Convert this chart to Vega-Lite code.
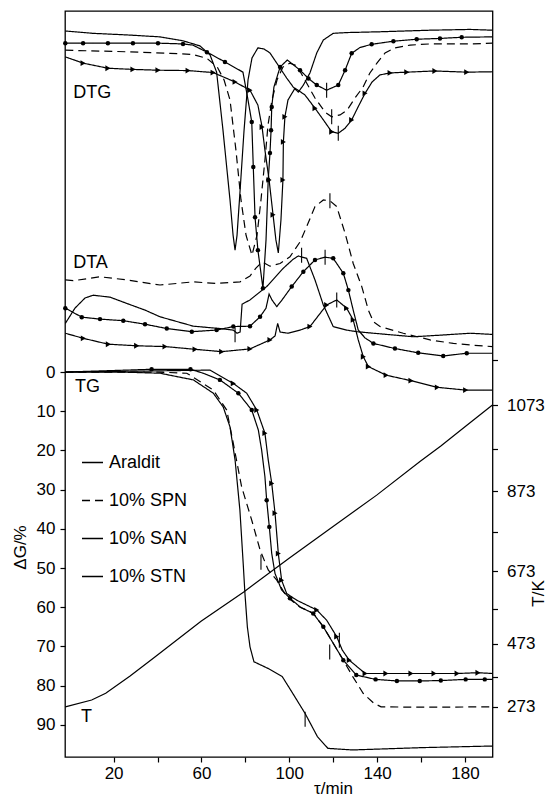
{
"$schema":"https://vega.github.io/schema/vega-lite/v6.json",
"width":427.5,"height":746,
"autosize":{"type":"none"},
"padding":{"left":65,"top":11,"right":60.5,"bottom":43},
"background":"white",
"config":{
 "view":{"stroke":"black","strokeWidth":1.3},
 "font":"Liberation Sans",
 "axis":{"domain":false,"grid":false,"tickColor":"black","labelColor":"black","titleColor":"black","labelFont":"Liberation Sans","titleFont":"Liberation Sans","labelFontSize":17,"titleFontSize":17,"titleFontWeight":"normal","tickWidth":1.2,"tickSize":5}
},
"datasets":{
 "curves":[
  {"g":"DTG","s":"Araldit","t":-2,"v":-87.0},{"g":"DTG","s":"Araldit","t":10.6,"v":-86.4},{"g":"DTG","s":"Araldit","t":26.1,"v":-86.0},{"g":"DTG","s":"Araldit","t":41.1,"v":-85.5},{"g":"DTG","s":"Araldit","t":51.6,"v":-84.5},{"g":"DTG","s":"Araldit","t":59.3,"v":-83.2},{"g":"DTG","s":"Araldit","t":63.9,"v":-80.9},{"g":"DTG","s":"Araldit","t":66.9,"v":-76.5},{"g":"DTG","s":"Araldit","t":69.8,"v":-61.7},{"g":"DTG","s":"Araldit","t":73.0,"v":-43.9},{"g":"DTG","s":"Araldit","t":74.4,"v":-34.9},{"g":"DTG","s":"Araldit","t":75.3,"v":-31.1},{"g":"DTG","s":"Araldit","t":76.2,"v":-34.9},{"g":"DTG","s":"Araldit","t":77.6,"v":-46.4},{"g":"DTG","s":"Araldit","t":79.4,"v":-61.7},{"g":"DTG","s":"Araldit","t":81.2,"v":-74.5},{"g":"DTG","s":"Araldit","t":83.0,"v":-80.1},{"g":"DTG","s":"Araldit","t":85.7,"v":-82.7},{"g":"DTG","s":"Araldit","t":88.5,"v":-82.4},{"g":"DTG","s":"Araldit","t":91.2,"v":-81.4},{"g":"DTG","s":"Araldit","t":94.3,"v":-78.8},{"g":"DTG","s":"Araldit","t":98.8,"v":-75.0},{"g":"DTG","s":"Araldit","t":101.8,"v":-72.7},{"g":"DTG","s":"Araldit","t":104.1,"v":-71.4},{"g":"DTG","s":"Araldit","t":106.4,"v":-73.2},{"g":"DTG","s":"Araldit","t":109.4,"v":-76.3},{"g":"DTG","s":"Araldit","t":112.5,"v":-81.4},{"g":"DTG","s":"Araldit","t":115.5,"v":-84.7},{"g":"DTG","s":"Araldit","t":120.0,"v":-86.4},{"g":"DTG","s":"Araldit","t":126.1,"v":-86.6},{"g":"DTG","s":"Araldit","t":141.3,"v":-86.8},{"g":"DTG","s":"Araldit","t":164.1,"v":-87.2},{"g":"DTG","s":"Araldit","t":182.3,"v":-87.4},{"g":"DTG","s":"Araldit","t":192.5,"v":-87.2},

  {"g":"DTG","s":"10% SPN","t":-2,"v":-82.1},{"g":"DTG","s":"10% SPN","t":26.1,"v":-81.7},{"g":"DTG","s":"10% SPN","t":45.7,"v":-81.3},{"g":"DTG","s":"10% SPN","t":56.1,"v":-81.0},{"g":"DTG","s":"10% SPN","t":62.5,"v":-80.0},{"g":"DTG","s":"10% SPN","t":67.1,"v":-77.9},{"g":"DTG","s":"10% SPN","t":70.3,"v":-74.5},{"g":"DTG","s":"10% SPN","t":73.0,"v":-69.4},{"g":"DTG","s":"10% SPN","t":75.7,"v":-56.6},{"g":"DTG","s":"10% SPN","t":78.0,"v":-43.9},{"g":"DTG","s":"10% SPN","t":80.3,"v":-34.9},{"g":"DTG","s":"10% SPN","t":83.0,"v":-29.8},{"g":"DTG","s":"10% SPN","t":85.3,"v":-34.9},{"g":"DTG","s":"10% SPN","t":87.1,"v":-43.9},{"g":"DTG","s":"10% SPN","t":88.9,"v":-54.1},{"g":"DTG","s":"10% SPN","t":90.3,"v":-63.0},{"g":"DTG","s":"10% SPN","t":92.1,"v":-69.4},{"g":"DTG","s":"10% SPN","t":94.4,"v":-74.5},{"g":"DTG","s":"10% SPN","t":97.1,"v":-77.8},{"g":"DTG","s":"10% SPN","t":100.3,"v":-78.8},{"g":"DTG","s":"10% SPN","t":103.5,"v":-78.1},{"g":"DTG","s":"10% SPN","t":107.1,"v":-74.5},{"g":"DTG","s":"10% SPN","t":111.7,"v":-69.9},{"g":"DTG","s":"10% SPN","t":116.3,"v":-66.3},{"g":"DTG","s":"10% SPN","t":119.3,"v":-65.1},{"g":"DTG","s":"10% SPN","t":123.1,"v":-65.6},{"g":"DTG","s":"10% SPN","t":126.3,"v":-66.8},{"g":"DTG","s":"10% SPN","t":129.9,"v":-69.9},{"g":"DTG","s":"10% SPN","t":133.6,"v":-72.7},{"g":"DTG","s":"10% SPN","t":136.7,"v":-76.3},{"g":"DTG","s":"10% SPN","t":139.9,"v":-78.8},{"g":"DTG","s":"10% SPN","t":143.6,"v":-81.4},{"g":"DTG","s":"10% SPN","t":148.1,"v":-82.7},{"g":"DTG","s":"10% SPN","t":155.0,"v":-83.4},{"g":"DTG","s":"10% SPN","t":164.1,"v":-83.7},{"g":"DTG","s":"10% SPN","t":182.3,"v":-83.7},{"g":"DTG","s":"10% SPN","t":192.5,"v":-83.9},

  {"g":"DTG","s":"10% SAN","t":-2,"v":-83.9,"m":1},{"g":"DTG","s":"10% SAN","t":6.1,"v":-83.9,"m":1},{"g":"DTG","s":"10% SAN","t":17.4,"v":-83.9,"m":1},{"g":"DTG","s":"10% SAN","t":28.8,"v":-83.9,"m":1},{"g":"DTG","s":"10% SAN","t":40.2,"v":-83.9,"m":1},{"g":"DTG","s":"10% SAN","t":51.6,"v":-83.7,"m":1},{"g":"DTG","s":"10% SAN","t":56.1,"v":-83.4},{"g":"DTG","s":"10% SAN","t":62.5,"v":-81.6,"m":1},{"g":"DTG","s":"10% SAN","t":70.7,"v":-79.1,"m":1},{"g":"DTG","s":"10% SAN","t":78.9,"v":-76.5},{"g":"DTG","s":"10% SAN","t":81.2,"v":-69.4},{"g":"DTG","s":"10% SAN","t":82.9,"v":-63.8,"m":1},{"g":"DTG","s":"10% SAN","t":83.6,"v":-52.3,"m":1},{"g":"DTG","s":"10% SAN","t":84.4,"v":-39.5,"m":1},{"g":"DTG","s":"10% SAN","t":85.7,"v":-31.1,"m":1},{"g":"DTG","s":"10% SAN","t":88.0,"v":-21.4,"m":1},{"g":"DTG","s":"10% SAN","t":89.4,"v":-33.7},{"g":"DTG","s":"10% SAN","t":90.4,"v":-49.0,"m":1},{"g":"DTG","s":"10% SAN","t":91.2,"v":-55.9,"m":1},{"g":"DTG","s":"10% SAN","t":91.7,"v":-61.7,"m":1},{"g":"DTG","s":"10% SAN","t":92.0,"v":-67.6,"m":1},{"g":"DTG","s":"10% SAN","t":93.0,"v":-72.7},{"g":"DTG","s":"10% SAN","t":95.8,"v":-77.8,"m":1},{"g":"DTG","s":"10% SAN","t":99.1,"v":-79.6},{"g":"DTG","s":"10% SAN","t":104.9,"v":-77.0,"m":1},{"g":"DTG","s":"10% SAN","t":108.7,"v":-74.9,"m":1},{"g":"DTG","s":"10% SAN","t":112.5,"v":-73.2,"m":1},{"g":"DTG","s":"10% SAN","t":117.0,"v":-71.9},{"g":"DTG","s":"10% SAN","t":122.3,"v":-73.2,"m":1},{"g":"DTG","s":"10% SAN","t":125.4,"v":-77.0,"m":1},{"g":"DTG","s":"10% SAN","t":128.4,"v":-81.3,"m":1},{"g":"DTG","s":"10% SAN","t":132.2,"v":-82.8},{"g":"DTG","s":"10% SAN","t":137.5,"v":-83.6,"m":1},{"g":"DTG","s":"10% SAN","t":147.4,"v":-84.4,"m":1},{"g":"DTG","s":"10% SAN","t":158.0,"v":-84.9,"m":1},{"g":"DTG","s":"10% SAN","t":168.6,"v":-85.1,"m":1},{"g":"DTG","s":"10% SAN","t":178.5,"v":-85.4,"m":1},{"g":"DTG","s":"10% SAN","t":192.5,"v":-85.5},

  {"g":"DTG","s":"10% STN","t":-2,"v":-80.4},{"g":"DTG","s":"10% STN","t":6.1,"v":-78.8,"m":1},{"g":"DTG","s":"10% STN","t":17.4,"v":-77.5,"m":1},{"g":"DTG","s":"10% STN","t":28.8,"v":-77.2,"m":1},{"g":"DTG","s":"10% STN","t":40.2,"v":-77.0,"m":1},{"g":"DTG","s":"10% STN","t":53.9,"v":-76.9,"m":1},{"g":"DTG","s":"10% STN","t":65.3,"v":-76.4,"m":1},{"g":"DTG","s":"10% STN","t":75.3,"v":-74.0,"m":1},{"g":"DTG","s":"10% STN","t":82.1,"v":-71.9,"m":1},{"g":"DTG","s":"10% STN","t":85.7,"v":-68.1},{"g":"DTG","s":"10% STN","t":87.6,"v":-62.5,"m":1},{"g":"DTG","s":"10% STN","t":88.9,"v":-56.6},{"g":"DTG","s":"10% STN","t":90.8,"v":-49.0,"m":1},{"g":"DTG","s":"10% STN","t":92.6,"v":-40.1,"m":1},{"g":"DTG","s":"10% STN","t":93.9,"v":-33.7},{"g":"DTG","s":"10% STN","t":95.0,"v":-30.4},{"g":"DTG","s":"10% STN","t":96.2,"v":-38.8},{"g":"DTG","s":"10% STN","t":97.1,"v":-49.0,"m":1},{"g":"DTG","s":"10% STN","t":97.3,"v":-58.7,"m":1},{"g":"DTG","s":"10% STN","t":98.0,"v":-65.1,"m":1},{"g":"DTG","s":"10% STN","t":99.4,"v":-69.4},{"g":"DTG","s":"10% STN","t":102.6,"v":-72.4},{"g":"DTG","s":"10% STN","t":107.1,"v":-70.7},{"g":"DTG","s":"10% STN","t":111.7,"v":-67.3,"m":1},{"g":"DTG","s":"10% STN","t":114.9,"v":-64.8},{"g":"DTG","s":"10% STN","t":119.3,"v":-61.3,"m":1},{"g":"DTG","s":"10% STN","t":122.3,"v":-60.9},{"g":"DTG","s":"10% STN","t":125.4,"v":-62.2},{"g":"DTG","s":"10% STN","t":128.4,"v":-64.3,"m":1},{"g":"DTG","s":"10% STN","t":131.3,"v":-67.6},{"g":"DTG","s":"10% STN","t":134.5,"v":-71.1,"m":1},{"g":"DTG","s":"10% STN","t":137.7,"v":-74.0},{"g":"DTG","s":"10% STN","t":141.3,"v":-75.8},{"g":"DTG","s":"10% STN","t":145.9,"v":-76.3,"m":1},{"g":"DTG","s":"10% STN","t":153.5,"v":-76.5,"m":1},{"g":"DTG","s":"10% STN","t":166.3,"v":-76.8,"m":1},{"g":"DTG","s":"10% STN","t":180.8,"v":-76.5,"m":1},{"g":"DTG","s":"10% STN","t":192.5,"v":-76.6},

  {"g":"DTA","s":"Araldit","t":-2,"v":-12.4},{"g":"DTA","s":"Araldit","t":2.4,"v":-16.3},{"g":"DTA","s":"Araldit","t":7.0,"v":-18.9},{"g":"DTA","s":"Araldit","t":10.7,"v":-19.6},{"g":"DTA","s":"Araldit","t":18.4,"v":-19.1},{"g":"DTA","s":"Araldit","t":26.0,"v":-17.5},{"g":"DTA","s":"Araldit","t":34.3,"v":-15.8},{"g":"DTA","s":"Araldit","t":41.1,"v":-14.1},{"g":"DTA","s":"Araldit","t":56.3,"v":-11.7},{"g":"DTA","s":"Araldit","t":68.4,"v":-11.1},{"g":"DTA","s":"Araldit","t":74.5,"v":-10.7},{"g":"DTA","s":"Araldit","t":76.2,"v":-9.9},{"g":"DTA","s":"Araldit","t":77.6,"v":-10.2},{"g":"DTA","s":"Araldit","t":78.5,"v":-17.3},{"g":"DTA","s":"Araldit","t":82.1,"v":-18.4},{"g":"DTA","s":"Araldit","t":89.7,"v":-21.8},{"g":"DTA","s":"Araldit","t":97.3,"v":-26.5},{"g":"DTA","s":"Araldit","t":101.8,"v":-28.8},{"g":"DTA","s":"Araldit","t":104.1,"v":-29.6},{"g":"DTA","s":"Araldit","t":107.9,"v":-29.0},{"g":"DTA","s":"Araldit","t":111.7,"v":-23.5},{"g":"DTA","s":"Araldit","t":115.5,"v":-17.1},{"g":"DTA","s":"Araldit","t":120.0,"v":-11.6},{"g":"DTA","s":"Araldit","t":126.1,"v":-10.7},{"g":"DTA","s":"Araldit","t":130.7,"v":-10.3},{"g":"DTA","s":"Araldit","t":138.3,"v":-9.9},{"g":"DTA","s":"Araldit","t":156.5,"v":-9.0},{"g":"DTA","s":"Araldit","t":168.6,"v":-9.4},{"g":"DTA","s":"Araldit","t":182.3,"v":-9.9},{"g":"DTA","s":"Araldit","t":192.5,"v":-9.6},

  {"g":"DTA","s":"10% SPN","t":-2,"v":-23.5},{"g":"DTA","s":"10% SPN","t":1.6,"v":-23.3},{"g":"DTA","s":"10% SPN","t":13.8,"v":-24.3},{"g":"DTA","s":"10% SPN","t":26.0,"v":-23.5},{"g":"DTA","s":"10% SPN","t":41.1,"v":-22.2},{"g":"DTA","s":"10% SPN","t":56.3,"v":-23.0},{"g":"DTA","s":"10% SPN","t":66.9,"v":-22.6},{"g":"DTA","s":"10% SPN","t":77.6,"v":-23.0},{"g":"DTA","s":"10% SPN","t":82.1,"v":-24.5},{"g":"DTA","s":"10% SPN","t":84.8,"v":-26.5},{"g":"DTA","s":"10% SPN","t":87.6,"v":-28.1},{"g":"DTA","s":"10% SPN","t":91.2,"v":-27.0},{"g":"DTA","s":"10% SPN","t":95.8,"v":-27.7},{"g":"DTA","s":"10% SPN","t":100.3,"v":-29.4},{"g":"DTA","s":"10% SPN","t":104.9,"v":-33.2},{"g":"DTA","s":"10% SPN","t":107.9,"v":-37.1},{"g":"DTA","s":"10% SPN","t":111.7,"v":-42.2},{"g":"DTA","s":"10% SPN","t":115.5,"v":-43.9},{"g":"DTA","s":"10% SPN","t":118.5,"v":-43.7},{"g":"DTA","s":"10% SPN","t":121.6,"v":-42.2},{"g":"DTA","s":"10% SPN","t":125.4,"v":-35.4},{"g":"DTA","s":"10% SPN","t":129.1,"v":-27.7},{"g":"DTA","s":"10% SPN","t":133.0,"v":-21.8},{"g":"DTA","s":"10% SPN","t":136.0,"v":-15.8},{"g":"DTA","s":"10% SPN","t":138.3,"v":-12.8},{"g":"DTA","s":"10% SPN","t":141.3,"v":-11.6},{"g":"DTA","s":"10% SPN","t":151.9,"v":-9.9},{"g":"DTA","s":"10% SPN","t":164.1,"v":-8.2},{"g":"DTA","s":"10% SPN","t":174.7,"v":-7.3},{"g":"DTA","s":"10% SPN","t":182.3,"v":-6.9},{"g":"DTA","s":"10% SPN","t":192.5,"v":-6.5},

  {"g":"DTA","s":"10% SAN","t":-2,"v":-16.3,"m":1},{"g":"DTA","s":"10% SAN","t":5.5,"v":-14.0,"m":1},{"g":"DTA","s":"10% SAN","t":13.8,"v":-13.5,"m":1},{"g":"DTA","s":"10% SAN","t":24.4,"v":-13.1,"m":1},{"g":"DTA","s":"10% SAN","t":34.3,"v":-12.2,"m":1},{"g":"DTA","s":"10% SAN","t":44.2,"v":-11.1,"m":1},{"g":"DTA","s":"10% SAN","t":55.6,"v":-10.3,"m":1},{"g":"DTA","s":"10% SAN","t":66.9,"v":-10.7,"m":1},{"g":"DTA","s":"10% SAN","t":74.5,"v":-11.6,"m":1},{"g":"DTA","s":"10% SAN","t":82.1,"v":-11.7,"m":1},{"g":"DTA","s":"10% SAN","t":86.7,"v":-14.1,"m":1},{"g":"DTA","s":"10% SAN","t":89.4,"v":-16.3},{"g":"DTA","s":"10% SAN","t":90.8,"v":-19.9},{"g":"DTA","s":"10% SAN","t":92.1,"v":-18.4},{"g":"DTA","s":"10% SAN","t":94.3,"v":-16.7},{"g":"DTA","s":"10% SAN","t":96.7,"v":-18.4},{"g":"DTA","s":"10% SAN","t":101.1,"v":-21.8,"m":1},{"g":"DTA","s":"10% SAN","t":106.4,"v":-25.6,"m":1},{"g":"DTA","s":"10% SAN","t":111.7,"v":-28.6,"m":1},{"g":"DTA","s":"10% SAN","t":116.3,"v":-29.3},{"g":"DTA","s":"10% SAN","t":120.0,"v":-29.0,"m":1},{"g":"DTA","s":"10% SAN","t":124.6,"v":-25.2,"m":1},{"g":"DTA","s":"10% SAN","t":126.9,"v":-20.9,"m":1},{"g":"DTA","s":"10% SAN","t":129.1,"v":-15.8},{"g":"DTA","s":"10% SAN","t":131.4,"v":-10.7},{"g":"DTA","s":"10% SAN","t":134.5,"v":-8.7},{"g":"DTA","s":"10% SAN","t":138.3,"v":-7.3,"m":1},{"g":"DTA","s":"10% SAN","t":148.1,"v":-6.0,"m":1},{"g":"DTA","s":"10% SAN","t":158.7,"v":-4.9,"m":1},{"g":"DTA","s":"10% SAN","t":170.1,"v":-4.1,"m":1},{"g":"DTA","s":"10% SAN","t":180.8,"v":-4.8,"m":1},{"g":"DTA","s":"10% SAN","t":192.5,"v":-4.8},

  {"g":"DTA","s":"10% STN","t":-2,"v":-9.9},{"g":"DTA","s":"10% STN","t":6.2,"v":-8.6,"m":1},{"g":"DTA","s":"10% STN","t":17.6,"v":-7.1,"m":1},{"g":"DTA","s":"10% STN","t":30.5,"v":-6.7,"m":1},{"g":"DTA","s":"10% STN","t":43.4,"v":-6.5,"m":1},{"g":"DTA","s":"10% STN","t":57.1,"v":-5.8,"m":1},{"g":"DTA","s":"10% STN","t":69.2,"v":-5.2,"m":1},{"g":"DTA","s":"10% STN","t":82.1,"v":-5.9,"m":1},{"g":"DTA","s":"10% STN","t":91.2,"v":-8.2,"m":1},{"g":"DTA","s":"10% STN","t":93.5,"v":-9.2},{"g":"DTA","s":"10% STN","t":94.7,"v":-12.4},{"g":"DTA","s":"10% STN","t":95.8,"v":-10.2},{"g":"DTA","s":"10% STN","t":99.5,"v":-9.9},{"g":"DTA","s":"10% STN","t":104.9,"v":-10.7},{"g":"DTA","s":"10% STN","t":109.4,"v":-11.6,"m":1},{"g":"DTA","s":"10% STN","t":117.0,"v":-17.1,"m":1},{"g":"DTA","s":"10% STN","t":121.6,"v":-18.4},{"g":"DTA","s":"10% STN","t":126.1,"v":-16.3,"m":1},{"g":"DTA","s":"10% STN","t":129.1,"v":-13.3,"m":1},{"g":"DTA","s":"10% STN","t":131.4,"v":-8.2},{"g":"DTA","s":"10% STN","t":133.7,"v":-3.9,"m":1},{"g":"DTA","s":"10% STN","t":136.0,"v":-1.4,"m":1},{"g":"DTA","s":"10% STN","t":144.1,"v":0.8,"m":1},{"g":"DTA","s":"10% STN","t":155.4,"v":2.2,"m":1},{"g":"DTA","s":"10% STN","t":167.4,"v":3.9,"m":1},{"g":"DTA","s":"10% STN","t":180.3,"v":4.6,"m":1},{"g":"DTA","s":"10% STN","t":192.5,"v":4.6},

  {"g":"TG","s":"Araldit","t":-2,"v":0},{"g":"TG","s":"Araldit","t":22.9,"v":0},{"g":"TG","s":"Araldit","t":41.1,"v":0.3},{"g":"TG","s":"Araldit","t":56.3,"v":2.0},{"g":"TG","s":"Araldit","t":65.4,"v":5.4},{"g":"TG","s":"Araldit","t":69.9,"v":8.9},{"g":"TG","s":"Araldit","t":73.0,"v":14.0},{"g":"TG","s":"Araldit","t":75.3,"v":22.4},{"g":"TG","s":"Araldit","t":77.5,"v":35.2},{"g":"TG","s":"Araldit","t":79.1,"v":49.7},{"g":"TG","s":"Araldit","t":79.8,"v":56.5},{"g":"TG","s":"Araldit","t":80.9,"v":65.0},{"g":"TG","s":"Araldit","t":82.1,"v":70.1},{"g":"TG","s":"Araldit","t":83.9,"v":73.9},{"g":"TG","s":"Araldit","t":90.3,"v":75.6},{"g":"TG","s":"Araldit","t":96.8,"v":77.7},{"g":"TG","s":"Araldit","t":101.6,"v":82.0},{"g":"TG","s":"Araldit","t":107.2,"v":87.1},{"g":"TG","s":"Araldit","t":112.8,"v":93.0},{"g":"TG","s":"Araldit","t":117.6,"v":96.0},{"g":"TG","s":"Araldit","t":128.9,"v":96.4},{"g":"TG","s":"Araldit","t":161.0,"v":95.8},{"g":"TG","s":"Araldit","t":192.5,"v":95.4},

  {"g":"TG","s":"10% SPN","t":-2,"v":0},{"g":"TG","s":"10% SPN","t":40,"v":0},{"g":"TG","s":"10% SPN","t":53.3,"v":0.3},{"g":"TG","s":"10% SPN","t":65.4,"v":4.6},{"g":"TG","s":"10% SPN","t":71.5,"v":9.7},{"g":"TG","s":"10% SPN","t":74.5,"v":18.2},{"g":"TG","s":"10% SPN","t":78.3,"v":29.3},{"g":"TG","s":"10% SPN","t":82.9,"v":37.8},{"g":"TG","s":"10% SPN","t":86.7,"v":45.4},{"g":"TG","s":"10% SPN","t":90.4,"v":50.5},{"g":"TG","s":"10% SPN","t":94.3,"v":53.1},{"g":"TG","s":"10% SPN","t":98.8,"v":57.3},{"g":"TG","s":"10% SPN","t":104.9,"v":60.0},{"g":"TG","s":"10% SPN","t":110.9,"v":61.5},{"g":"TG","s":"10% SPN","t":115.5,"v":65.0},{"g":"TG","s":"10% SPN","t":120.0,"v":69.2},{"g":"TG","s":"10% SPN","t":124.6,"v":73.5},{"g":"TG","s":"10% SPN","t":128.9,"v":77.7},{"g":"TG","s":"10% SPN","t":133.7,"v":82.0},{"g":"TG","s":"10% SPN","t":138.5,"v":84.5},{"g":"TG","s":"10% SPN","t":141.8,"v":85.4},{"g":"TG","s":"10% SPN","t":161.0,"v":85.5},{"g":"TG","s":"10% SPN","t":192.5,"v":85.4},

  {"g":"TG","s":"10% SAN","t":-2,"v":0},{"g":"TG","s":"10% SAN","t":37.3,"v":-0.7,"m":1},{"g":"TG","s":"10% SAN","t":55.0,"v":-0.7,"m":1},{"g":"TG","s":"10% SAN","t":60.8,"v":0.3},{"g":"TG","s":"10% SAN","t":68.4,"v":2.0,"m":1},{"g":"TG","s":"10% SAN","t":76.8,"v":5.4,"m":1},{"g":"TG","s":"10% SAN","t":82.9,"v":9.7,"m":1},{"g":"TG","s":"10% SAN","t":85.9,"v":14.8},{"g":"TG","s":"10% SAN","t":87.4,"v":19.9},{"g":"TG","s":"10% SAN","t":88.9,"v":26.7},{"g":"TG","s":"10% SAN","t":89.7,"v":32.7,"m":1},{"g":"TG","s":"10% SAN","t":90.9,"v":39.5,"m":1},{"g":"TG","s":"10% SAN","t":92.0,"v":46.3},{"g":"TG","s":"10% SAN","t":93.5,"v":51.4},{"g":"TG","s":"10% SAN","t":96.5,"v":55.6},{"g":"TG","s":"10% SAN","t":100.3,"v":57.7,"m":1},{"g":"TG","s":"10% SAN","t":104.9,"v":59.9},{"g":"TG","s":"10% SAN","t":110.9,"v":61.6,"m":1},{"g":"TG","s":"10% SAN","t":115.5,"v":65.0,"m":1},{"g":"TG","s":"10% SAN","t":120.0,"v":69.2},{"g":"TG","s":"10% SAN","t":124.6,"v":73.5,"m":1},{"g":"TG","s":"10% SAN","t":130.5,"v":77.3,"m":1},{"g":"TG","s":"10% SAN","t":139.3,"v":78.4,"m":1},{"g":"TG","s":"10% SAN","t":149.0,"v":78.8,"m":1},{"g":"TG","s":"10% SAN","t":159.4,"v":78.8,"m":1},{"g":"TG","s":"10% SAN","t":169.0,"v":78.7,"m":1},{"g":"TG","s":"10% SAN","t":180.3,"v":78.4,"m":1},{"g":"TG","s":"10% SAN","t":189.0,"v":78.4,"m":1},{"g":"TG","s":"10% SAN","t":192.5,"v":78.4},

  {"g":"TG","s":"10% STN","t":-2,"v":0},{"g":"TG","s":"10% STN","t":40,"v":-0.3},{"g":"TG","s":"10% STN","t":63.9,"v":-0.5},{"g":"TG","s":"10% STN","t":74.5,"v":2.9,"m":1},{"g":"TG","s":"10% STN","t":80.6,"v":5.4},{"g":"TG","s":"10% STN","t":85.2,"v":9.7,"m":1},{"g":"TG","s":"10% STN","t":88.9,"v":15.6,"m":1},{"g":"TG","s":"10% STN","t":90.4,"v":22.4},{"g":"TG","s":"10% STN","t":92.0,"v":28.4,"m":1},{"g":"TG","s":"10% STN","t":93.5,"v":36.0,"m":1},{"g":"TG","s":"10% STN","t":95.0,"v":46.3,"m":1},{"g":"TG","s":"10% STN","t":96.5,"v":53.1,"m":1},{"g":"TG","s":"10% STN","t":98.8,"v":56.5},{"g":"TG","s":"10% STN","t":103.4,"v":58.2},{"g":"TG","s":"10% STN","t":112.5,"v":60.7,"m":1},{"g":"TG","s":"10% STN","t":117.0,"v":63.3},{"g":"TG","s":"10% STN","t":121.6,"v":67.5,"m":1},{"g":"TG","s":"10% STN","t":124.1,"v":70.9},{"g":"TG","s":"10% STN","t":127.3,"v":73.5,"m":1},{"g":"TG","s":"10% STN","t":133.7,"v":76.5},{"g":"TG","s":"10% STN","t":134.5,"v":76.9,"m":1},{"g":"TG","s":"10% STN","t":144.0,"v":76.9,"m":1},{"g":"TG","s":"10% STN","t":155.4,"v":76.9,"m":1},{"g":"TG","s":"10% STN","t":165.9,"v":76.9,"m":1},{"g":"TG","s":"10% STN","t":176.4,"v":76.9,"m":1},{"g":"TG","s":"10% STN","t":185.9,"v":76.7,"m":1},{"g":"TG","s":"10% STN","t":192.5,"v":76.9}
 ],
 "temp":[
  {"t":-2,"T":272},{"t":10.0,"T":296},{"t":16.4,"T":319},{"t":27.5,"T":375},{"t":38.8,"T":434},{"t":59.8,"T":538},{"t":79.1,"T":618},{"t":99.6,"T":706},{"t":119.3,"T":785},{"t":139.8,"T":864},{"t":159.5,"T":944},{"t":169.0,"T":980},{"t":180.0,"T":1024},{"t":192.5,"T":1073}
 ],
 "labels":[
  {"t":1.6,"v":-71.3,"txt":"DTG"},{"t":1.6,"v":-27.9,"txt":"DTA"},{"t":2.4,"v":3.8,"txt":"TG"},{"t":5.1,"v":88.1,"txt":"T"}
 ],
 "peaks":[
  {"t":122.3,"v":-60.9},{"t":119.3,"v":-65.1},{"t":117.0,"v":-71.9},{"t":118.5,"v":-43.7},{"t":116.3,"v":-29.3},{"t":105.6,"v":-29.8},{"t":121.6,"v":-18.4},{"t":75.3,"v":-9.5},{"t":107.2,"v":88.6},{"t":118.4,"v":71.4},{"t":122.8,"v":68.4},{"t":87.1,"v":48.5}
 ]
},
"layer":[
 {"layer":[
  {"data":{"name":"curves"},
   "mark":{"type":"line","color":"black","strokeWidth":1.2},
   "encoding":{
    "x":{"field":"t","type":"quantitative","scale":{"domain":[-2.14,192.53],"nice":false,"zero":false},
         "axis":{"values":[20,40,60,80,100,120,140,160,180],"format":"d","labelExpr":"datum.value % 40 == 20 ? datum.label : ''","title":"τ/min","titleX":268,"titleY":31,"titleBaseline":"middle","labelPadding":3}},
    "y":{"field":"v","type":"quantitative","scale":{"domain":[-92.1,98.2],"reverse":true,"nice":false,"zero":false},
         "axis":{"values":[0,10,20,30,40,50,60,70,80,90],"format":"d","title":"ΔG/%","titleX":-45,"titleY":536,"titleAngle":270,"titleBaseline":"middle","titleAlign":"center","labelPadding":5}},
    "strokeDash":{"field":"s","type":"nominal",
      "scale":{"domain":["Araldit","10% SPN","10% SAN","10% STN"],"range":[[1,0],[8,5],[1,0],[1,0]]},
      "legend":{"title":null,"orient":"none","legendX":16,"legendY":440,"symbolSize":441,"symbolStrokeWidth":1.3,"symbolStrokeColor":"black","labelFontSize":18,"labelFont":"Liberation Sans","labelColor":"black","labelOffset":5,"rowPadding":17,"padding":0}},
    "detail":{"field":"g","type":"nominal"}
   }},
  {"data":{"name":"curves"},
   "transform":[{"filter":"datum.m == 1"}],
   "mark":{"type":"point","filled":true,"color":"black","opacity":1},
   "encoding":{
    "x":{"field":"t","type":"quantitative"},
    "y":{"field":"v","type":"quantitative"},
    "shape":{"field":"s","type":"nominal","scale":{"domain":["10% SAN","10% STN"],"range":["circle","triangle-right"]},"legend":null},
    "size":{"field":"s","type":"nominal","scale":{"domain":["10% SAN","10% STN"],"range":[20,34]},"legend":null}
   }},
  {"data":{"name":"peaks"},
   "mark":{"type":"tick","orient":"vertical","size":15,"thickness":1.1,"color":"black","opacity":1},
   "encoding":{
    "x":{"field":"t","type":"quantitative"},
    "y":{"field":"v","type":"quantitative"}
   }},
  {"data":{"name":"labels"},
   "mark":{"type":"text","align":"left","baseline":"middle","fontSize":18,"font":"Liberation Sans","color":"black"},
   "encoding":{
    "x":{"field":"t","type":"quantitative"},
    "y":{"field":"v","type":"quantitative"},
    "text":{"field":"txt","type":"nominal"}
   }}
 ]},
 {"data":{"name":"temp"},
  "mark":{"type":"line","color":"black","strokeWidth":1.2},
  "encoding":{
   "x":{"field":"t","type":"quantitative"},
   "y":{"field":"T","type":"quantitative","scale":{"type":"pow","exponent":1.33,"domain":[61,1871],"nice":false,"zero":false},
        "axis":{"orient":"right","values":[273,373,473,573,673,773,873,973,1073,1173],"format":"d","labelExpr":"indexof([273,473,673,873,1073], datum.value) >= 0 ? datum.label : ''","title":"T/K","titleX":45.5,"titleY":582,"titleAngle":270,"titleBaseline":"middle","titleAlign":"center","labelPadding":9}}
  }}
],
"resolve":{"scale":{"y":"independent"}}
}
